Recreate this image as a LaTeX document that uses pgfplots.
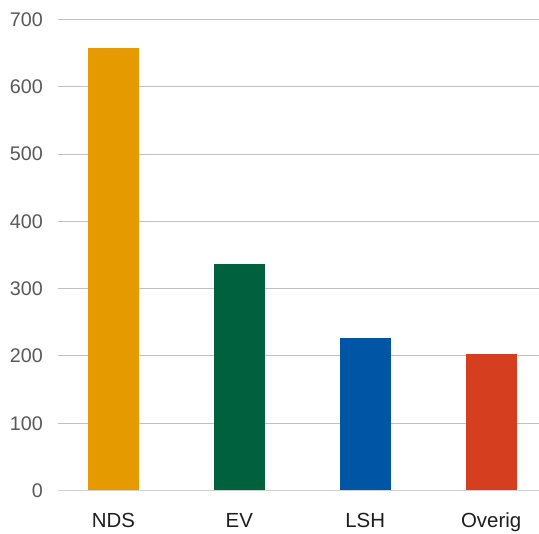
\documentclass[border=0pt]{standalone}
\usepackage{pgfplots}
\pgfplotsset{compat=1.18}
\usepackage{fontspec}
\setmainfont{Liberation Sans}
\definecolor{cNDS}{RGB}{229,155,0}
\definecolor{cEV}{RGB}{0,97,62}
\definecolor{cLSH}{RGB}{0,85,164}
\definecolor{cOV}{RGB}{214,62,32}
\definecolor{gridc}{RGB}{192,192,192}
\definecolor{basec}{RGB}{208,208,208}
\definecolor{ytc}{RGB}{89,89,89}
\definecolor{xtc}{RGB}{30,30,30}
\begin{document}
\begin{tikzpicture}
\begin{axis}[
  name=ax,
  scale only axis,
  width=481bp, height=471bp,
  xmin=-0.44, xmax=3.38,
  ymin=0, ymax=700,
  ytick={0,100,...,700},
  xtick={0,1,2,3},
  xticklabels={NDS,EV,LSH,Overig},
  axis line style={draw=none},
  major tick length=0pt,
  ymajorgrids,
  grid style={gridc, line width=0.9bp},
  ybar, bar width=0.405, bar shift=0pt,
  /pgf/number format/assume math mode=true,
  yticklabel style={font=\fontsize{19.8}{21}\selectfont, text=ytc, anchor=base east, inner sep=0pt, xshift=-15bp, yshift=-6.9bp},
  xticklabel style={font=\fontsize{20.5}{22}\selectfont, text=xtc, anchor=base, inner sep=0pt, yshift=-37.5bp},
  clip=false,
]
\draw[basec, line width=1.6bp] (axis cs:-0.44,0) -- (axis cs:3.38,0);
\addplot[fill=cNDS, draw=none] coordinates {(0,657)};
\addplot[fill=cEV, draw=none] coordinates {(1,337)};
\addplot[fill=cLSH, draw=none] coordinates {(2,227)};
\addplot[fill=cOV, draw=none] coordinates {(3,203)};
\end{axis}
\pgfresetboundingbox
\path ([xshift=-58bp,yshift=-43.5bp]ax.south west) rectangle ([yshift=19.5bp]ax.north east);
\end{tikzpicture}
\end{document}
